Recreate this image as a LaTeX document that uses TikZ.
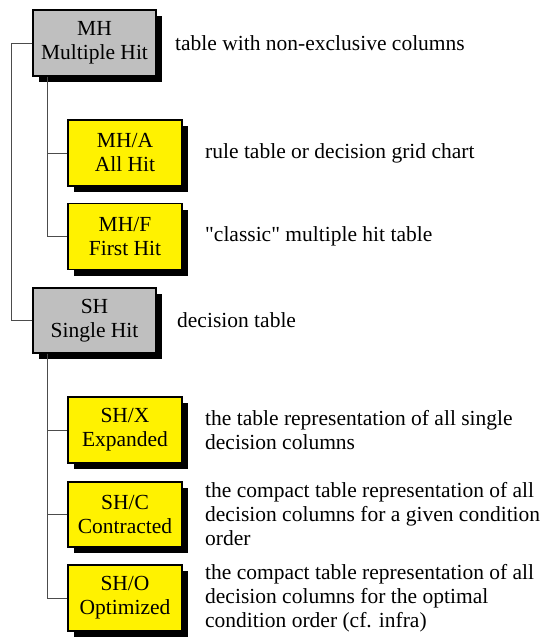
\documentclass[tikz,border=0pt]{standalone}
\usepackage{fontspec}
\setmainfont{Liberation Serif}[Ligatures=TeXOff]
\usetikzlibrary{shadows,calc}
\tikzset{
  base/.style={draw=black, line width=1.3pt, align=center, inner sep=0pt,
    minimum height=66pt, font=\fontsize{21.5}{24}\selectfont,
    drop shadow={shadow xshift=6pt, shadow yshift=-6pt, fill=black, opacity=1}},
  greybox/.style={base, fill=black!25, minimum width=123pt},
  yellowbox/.style={base, fill=yellow, minimum width=114pt},
  desc/.style={anchor=west, align=left, inner sep=0pt, font=\fontsize{21.5}{24}\selectfont},
  conn/.style={draw=black!70, line width=0.9pt}
}
\begin{document}
\begin{tikzpicture}[x=1pt,y=-1pt]
\useasboundingbox (0,0) rectangle (544,639);
% nodes
\node[greybox] (MH) at (94.5,43) {MH\\Multiple Hit};
\node[yellowbox] (MHA) at (125,153) {MH/A\\All Hit};
\node[yellowbox] (MHF) at (125,236.5) {MH/F\\First Hit};
\node[greybox, minimum height=65pt] (SH) at (94.5,320.5) {SH\\Single Hit};
\node[yellowbox] (SHX) at (125,430) {SH/X\\Expanded};
\node[yellowbox, minimum height=65pt] (SHC) at (125,514.5) {SH/C\\Contracted};
\node[yellowbox] (SHO) at (125,598) {SH/O\\Optimized};
% descriptions
\node[desc] (dMH) at (175,43) {table with non-exclusive columns};
\node[desc] (dMHA) at (205,153) {rule table or decision grid chart};
\node[desc] (dMHF) at (205,236.5) {"classic" multiple hit table};
\node[desc] (dSH) at (177,320.5) {decision table};
\node[desc] (dSHX) at (205,430) {the table representation of all single\\decision columns};
\node[desc] (dSHC) at (205,514.5) {the compact table representation of all\\decision columns for a given condition\\order};
\node[desc] (dSHO) at (205,598) {the compact table representation of all\\decision columns for the optimal\\condition order (cf. infra)};
% connectors
\coordinate (l1) at ($(MH.west)+(-21,0)$);
\draw[conn] (MH.west) -- (l1) |- (SH.west);
\coordinate (l2) at ($(MH.south west)+(15,0)$);
\draw[conn] (l2) |- (MHA.west);
\draw[conn] (l2) |- (MHF.west);
\coordinate (l3) at ($(SH.south west)+(15,0)$);
\draw[conn] (l3) |- (SHX.west);
\draw[conn] (l3) |- (SHC.west);
\draw[conn] (l3) |- (SHO.west);
\end{tikzpicture}
\end{document}
